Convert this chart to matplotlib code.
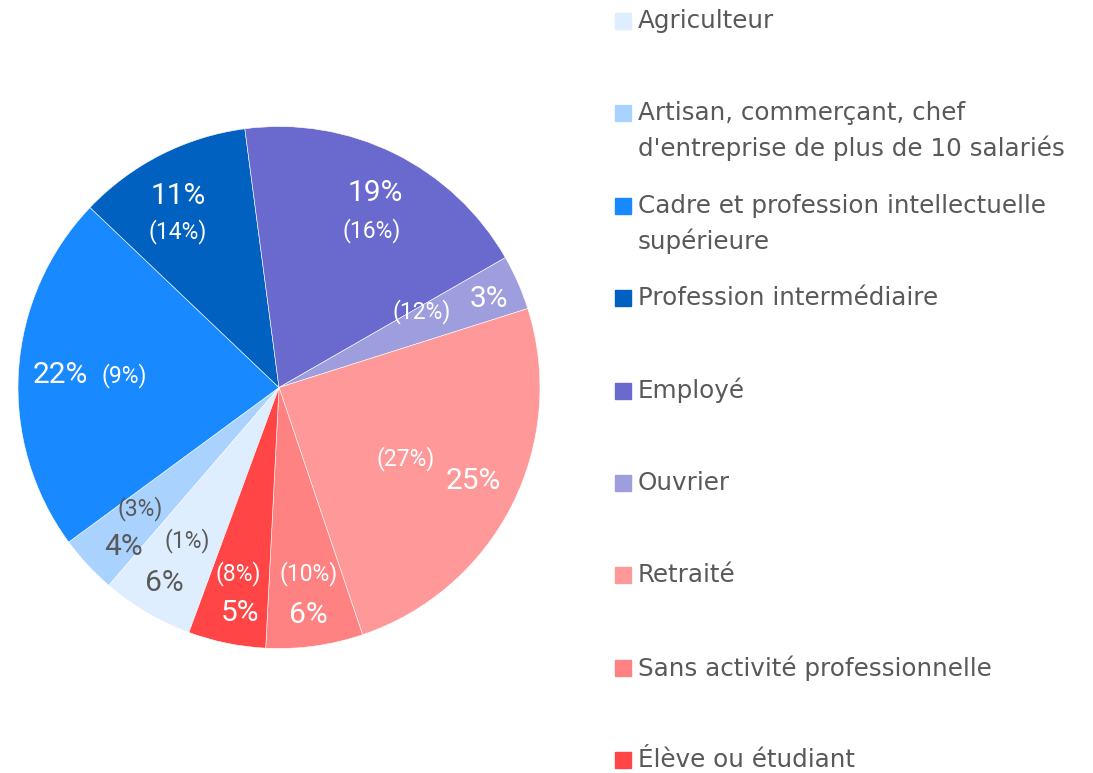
import matplotlib.pyplot as plt
import numpy as np
from matplotlib.patches import Rectangle

# catégories socio-professionnelles (ordre du camembert, sens horaire)
categories = [
    "Agriculteur",
    "Artisan, commerçant, chef\nd'entreprise de plus de 10 salariés",
    "Cadre et profession intellectuelle\nsupérieure",
    "Profession intermédiaire",
    "Employé",
    "Ouvrier",
    "Retraité",
    "Sans activité professionnelle",
    "Élève ou étudiant",
]
shares = [5.7, 3.6, 22.2, 10.8, 18.8, 3.4, 24.7, 6.0, 4.8]
# valeur de comparaison affichée entre parenthèses
compare = [1, 3, 9, 14, 16, 12, 27, 10, 8]

colors = ["#DFEEFE", "#AAD2FF", "#1889FF", "#0061C1", "#6A6ACE",
          "#9E9EDE", "#FF9999", "#FF8282", "#FF4545"]
text_colors = ["#595959", "#595959", "white", "white", "white",
               "white", "white", "white", "white"]

# placement des étiquettes : rayon, décalage angulaire (horaire, degrés),
# décalage de la parenthèse (pixels, x vers la droite, y vers le bas)
lab_r = [0.867, 0.855, 0.84, 0.83, 0.83, 0.873, 0.825, 0.88, 0.877]
lab_shift = [0, -3, -0.5, -0.8, 0, 0.8, -1.1, 0.5, -1.8]
paren_off = [(23, -42), (17, -39), (64, 0), (0, 36), (-3, 37),
             (-67, 13), (-67, -23), (0, -42), (-2, -40)]

W, H = 1093, 773
fig = plt.figure(figsize=(W / 100, H / 100), dpi=100)

# camembert : centre (279, 387.5) px, rayon 261 px
cx, cy, R = 279, 387.5, 261
ax = fig.add_axes([(cx - R) / W, (H - cy - R) / H, 2 * R / W, 2 * R / H])
wedges, _ = ax.pie(shares, colors=colors, startangle=249.8, counterclock=False,
                   radius=1, wedgeprops=dict(edgecolor="white", linewidth=0.4))
ax.set_xlim(-1, 1)
ax.set_ylim(-1, 1)
ax.set_aspect("equal")
ax.axis("off")

for i, w in enumerate(wedges):
    mid = (w.theta1 + w.theta2) / 2 - lab_shift[i]
    x = lab_r[i] * np.cos(np.radians(mid))
    y = lab_r[i] * np.sin(np.radians(mid))
    ax.text(x, y, f"{round(shares[i]):.0f}%", ha="center", va="center",
            fontsize=21.5, family="Roboto", color=text_colors[i])
    dx, dy = paren_off[i]
    ax.annotate(f"({compare[i]}%)", (x, y), xytext=(dx, -dy),
                textcoords="offset pixels", ha="center", va="center",
                fontsize=16.5, family="Roboto", color=text_colors[i])

# légende dessinée à la main (carrés alignés sur la première ligne)
sq = 16
for i, lab in enumerate(categories):
    yc = 21 + 92.4 * i
    fig.patches.append(Rectangle((615 / W, (H - yc - sq / 2) / H), sq / W, sq / H,
                                 transform=fig.transFigure, color=colors[i]))
    for j, line in enumerate(lab.split("\n")):
        fig.text(638 / W, (H - yc - 35 * j) / H, line, ha="left", va="center",
                 fontsize=17.7, family="DejaVu Sans", color="#595959")

fig.savefig("out.png", dpi=100)
